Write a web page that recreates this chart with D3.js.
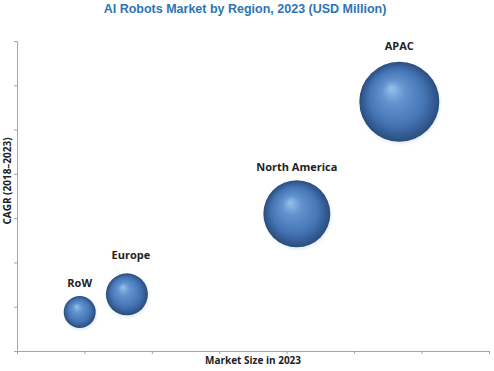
<!DOCTYPE html>
<html>
<head>
<meta charset="utf-8">
<script src="https://cdn.jsdelivr.net/npm/d3@7"></script>
<style>
  body { margin: 0; background: #fff; }
  svg { display: block; }
</style>
</head>
<body>
<svg id="chart-svg"></svg>
<script>
const regions = ["RoW", "Europe", "North America", "APAC"];
const marketSize = [0.93, 1.63, 4.15, 5.67];   // x position, axis units
const cagr = [0.88, 1.28, 3.10, 5.63];         // y position, axis units
const bubbleSize = [160, 276, 701, 1000];      // relative market size
const xTicks = [0, 1, 2, 3, 4, 5, 6, 7];
const yTicks = [0, 1, 2, 3, 4, 5, 6, 7];

const width = 494, height = 371;
const margin = { top: 41, right: 5, bottom: 20, left: 17 };

const svg = d3.select("#chart-svg")
  .attr("width", width)
  .attr("height", height);

const data = regions.map((r, i) => ({ name: r, x: marketSize[i], y: cagr[i], s: bubbleSize[i] }));

const x = d3.scaleLinear().domain([0, 7]).range([margin.left, width - margin.right]);
const y = d3.scaleLinear().domain([0, 7]).range([height - margin.bottom, margin.top]);
const r = d3.scaleSqrt().domain([0, d3.max(bubbleSize)]).range([0, 40]);

const defs = svg.append("defs");
const grad = defs.append("radialGradient")
  .attr("id", "ball")
  .attr("cx", "50%").attr("cy", "50%").attr("r", "50%")
  .attr("fx", "40%").attr("fy", "33%");
grad.append("stop").attr("offset", "0%").attr("stop-color", "#98c2ec");
grad.append("stop").attr("offset", "28%").attr("stop-color", "#6394cf");
grad.append("stop").attr("offset", "70%").attr("stop-color", "#4474b4");
grad.append("stop").attr("offset", "100%").attr("stop-color", "#2a4c7e");

const shadow = defs.append("filter").attr("id", "soft")
  .attr("x", "-30%").attr("y", "-30%").attr("width", "160%").attr("height", "160%");
shadow.append("feGaussianBlur").attr("stdDeviation", 1.5);

// title
svg.append("text")
  .attr("x", 245).attr("y", 13)
  .attr("text-anchor", "middle")
  .style("font-family", "'Liberation Sans', Arial, sans-serif")
  .style("font-weight", "bold")
  .style("font-size", "12.5px")
  .style("fill", "#2e74b5")
  .text("AI Robots Market by Region, 2023 (USD Million)");

// axes
svg.append("g")
  .attr("transform", "translate(0," + y(0) + ")")
  .call(d3.axisBottom(x).tickValues(xTicks).tickSize(3).tickSizeOuter(3).tickFormat(""));
svg.append("g")
  .attr("transform", "translate(" + x(0) + ",0)")
  .call(d3.axisLeft(y).tickValues(yTicks).tickSize(3).tickSizeOuter(3).tickFormat(""));
svg.selectAll(".domain, .tick line").attr("stroke", "#a6a6a6");

// axis titles
svg.append("text")
  .attr("x", 253).attr("y", 364)
  .attr("text-anchor", "middle")
  .style("font-family", "'Open Sans', sans-serif")
  .style("font-weight", "bold")
  .style("font-size", "10px")
  .style("fill", "#222")
  .text("Market Size in 2023");

svg.append("text")
  .attr("transform", "translate(11,181) rotate(-90)")
  .attr("text-anchor", "middle")
  .style("font-family", "'Open Sans', sans-serif")
  .style("font-weight", "bold")
  .style("font-size", "10px")
  .style("fill", "#222")
  .text("CAGR (2018–2023)");

// bubbles
const b = svg.selectAll("g.bubble")
  .data(data)
  .enter()
  .append("g")
  .attr("class", "bubble");

b.append("circle")
  .attr("cx", d => x(d.x) + 1)
  .attr("cy", d => y(d.y) + 2)
  .attr("r", d => r(d.s))
  .attr("fill", "#ccd6e2")
  .attr("opacity", 0.5)
  .attr("filter", "url(#soft)");

b.append("circle")
  .attr("cx", d => x(d.x))
  .attr("cy", d => y(d.y))
  .attr("r", d => r(d.s))
  .attr("fill", "url(#ball)");

b.append("text")
  .attr("x", d => x(d.x) + (d.name === "Europe" ? 4 : 0))
  .attr("y", d => y(d.y) - r(d.s) - (d.name === "Europe" ? 14 : d.name === "APAC" ? 12 : 9))
  .attr("text-anchor", "middle")
  .style("font-family", "'Open Sans', sans-serif")
  .style("font-weight", "bold")
  .style("font-size", "11px")
  .style("fill", "#222")
  .text(d => d.name);
</script>
</body>
</html>
